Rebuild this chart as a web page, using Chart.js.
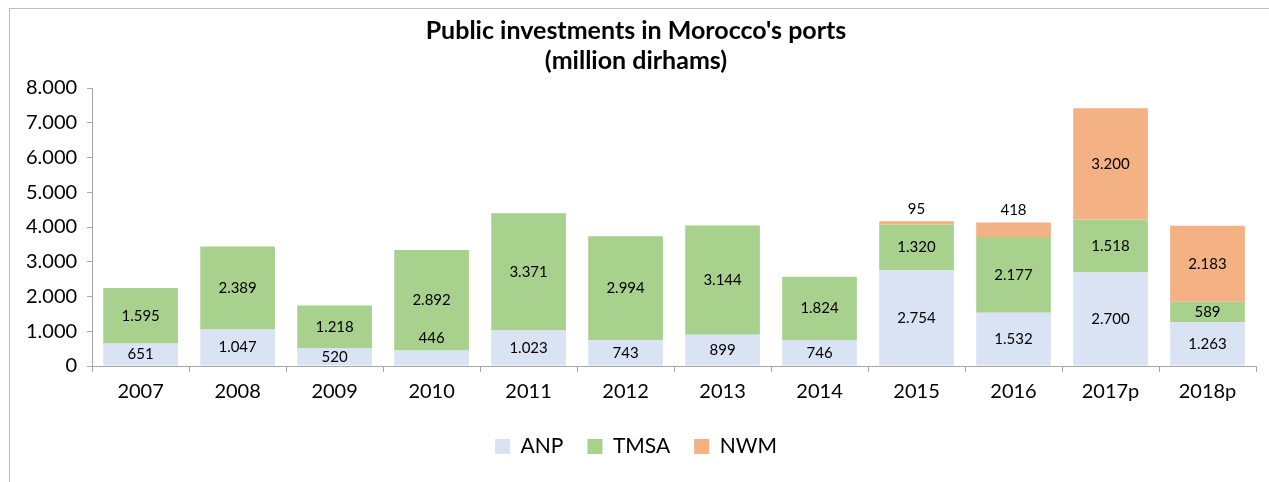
<!DOCTYPE html>
<html>
<head>
<meta charset="utf-8">
<script src="https://cdn.jsdelivr.net/npm/chart.js@4"></script>
<style>
  html, body { margin: 0; padding: 0; background: #fff; overflow: hidden; }
  #frame {
    position: absolute; left: 9px; top: 8px;
    width: 1270px; height: 480px;
    border-left: 1px solid #bfbfbf; border-top: 1px solid #bfbfbf;
  }
  #wrap { position: absolute; left: 0; top: 0; width: 1260px; height: 474px; }
</style>
</head>
<body>
<div id="frame"><div id="wrap"><canvas id="chart"></canvas></div></div>
<script>
// values (million dirhams)
const years = ['2007', '2008', '2009', '2010', '2011', '2012', '2013', '2014', '2015', '2016', '2017p', '2018p'];
const anp  = [651, 1047, 520, 446, 1023, 743, 899, 746, 2754, 1532, 2700, 1263];
const tmsa = [1595, 2389, 1218, 2892, 3371, 2994, 3144, 1824, 1320, 2177, 1518, 589];
const nwm  = [null, null, null, null, null, null, null, null, 95, 418, 3200, 2183];

const FONT = 'Lato, "Open Sans", sans-serif';

const fmt = v => Number(v).toLocaleString('de-DE');

// draws the value labels in (or just above, when too thin) each segment
const segmentLabels = {
  id: 'segmentLabels',
  afterDatasetsDraw(chart) {
    const ctx = chart.ctx;
    ctx.save();
    ctx.font = '15px ' + FONT;
    ctx.fillStyle = '#000';
    ctx.textAlign = 'center';
    ctx.textBaseline = 'middle';
    chart.data.datasets.forEach((ds, di) => {
      const meta = chart.getDatasetMeta(di);
      meta.data.forEach((bar, i) => {
        const v = ds.data[i];
        if (v == null) return;
        const h = Math.abs(bar.base - bar.y);
        let y = (bar.y + bar.base) / 2;
        if (h < 16) y = bar.y - 12;
        ctx.fillText(fmt(v), bar.x, y);
      });
    });
    ctx.restore();
  }
};

new Chart(document.getElementById('chart'), {
  type: 'bar',
  data: {
    labels: years,
    datasets: [
      { label: 'ANP', data: anp, backgroundColor: '#dae3f3' },
      { label: 'TMSA', data: tmsa, backgroundColor: '#a9d18e' },
      { label: 'NWM', data: nwm, backgroundColor: '#f4b183' }
    ]
  },
  options: {
    responsive: true,
    maintainAspectRatio: false,
    animation: false,
    barPercentage: 0.77,
    categoryPercentage: 1,
    layout: { padding: { left: 6, right: 14, top: 0, bottom: 16 } },
    plugins: {
      title: {
        display: true,
        text: ["Public investments in Morocco's ports", '(million dirhams)'],
        color: '#000',
        font: { family: FONT, size: 25, weight: 'bold' },
        lineHeight: 1.32,
        padding: { top: 7, bottom: 12 }
      },
      legend: {
        position: 'bottom',
        labels: {
          color: '#000',
          font: { family: FONT, size: 21 },
          boxWidth: 15,
          boxHeight: 15,
          padding: 24
        }
      },
      tooltip: { enabled: false }
    },
    scales: {
      x: {
        stacked: true,
        grid: { display: true, offset: true, drawOnChartArea: false, color: '#a6a6a6', tickLength: 6 },
        border: { color: '#a6a6a6' },
        ticks: { color: '#000', font: { family: FONT, size: 20 }, padding: 8 }
      },
      y: {
        stacked: true,
        min: 0,
        max: 8000,
        grid: { display: true, drawOnChartArea: false, color: '#a6a6a6', tickLength: 5 },
        border: { color: '#a6a6a6' },
        ticks: {
          stepSize: 1000,
          color: '#000',
          font: { family: FONT, size: 20 },
          padding: 10,
          callback: v => fmt(v)
        }
      }
    }
  },
  plugins: [segmentLabels]
});
</script>
</body>
</html>
